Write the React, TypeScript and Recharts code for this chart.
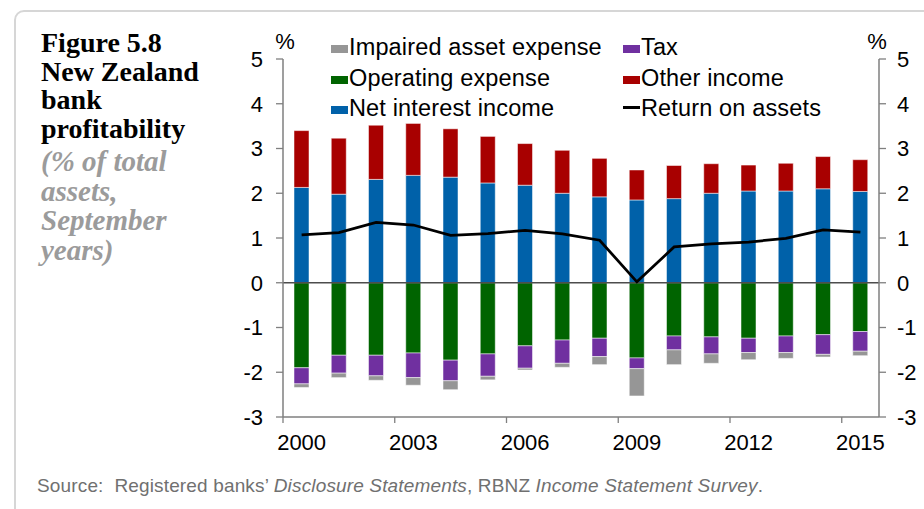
import {
  ComposedChart, Bar, Line, XAxis, YAxis, ReferenceLine,
} from 'recharts';

/* ───────── Data (% of total assets, September years) ───────── */

const YEARS = [
  '2000', '2001', '2002', '2003', '2004', '2005', '2006', '2007',
  '2008', '2009', '2010', '2011', '2012', '2013', '2014', '2015',
];
const NET_INTEREST = [2.13, 1.98, 2.31, 2.40, 2.36, 2.23, 2.18, 2.00, 1.92, 1.85, 1.88, 2.00, 2.05, 2.05, 2.10, 2.04];
const OTHER_INCOME = [1.27, 1.25, 1.21, 1.16, 1.08, 1.04, 0.93, 0.96, 0.86, 0.67, 0.74, 0.66, 0.58, 0.62, 0.72, 0.71];
const OPERATING_EXPENSE = [-1.90, -1.62, -1.62, -1.57, -1.73, -1.59, -1.41, -1.28, -1.24, -1.68, -1.19, -1.21, -1.24, -1.19, -1.16, -1.09];
const TAX = [-0.36, -0.40, -0.46, -0.55, -0.46, -0.50, -0.50, -0.52, -0.41, -0.24, -0.31, -0.38, -0.32, -0.37, -0.44, -0.44];
const IMPAIRED = [-0.08, -0.10, -0.10, -0.17, -0.20, -0.08, -0.04, -0.09, -0.18, -0.61, -0.33, -0.21, -0.16, -0.13, -0.06, -0.10];
const RETURN_ON_ASSETS = [1.07, 1.12, 1.35, 1.29, 1.06, 1.10, 1.17, 1.09, 0.95, 0.02, 0.80, 0.87, 0.91, 0.99, 1.18, 1.13];

const Y_TICKS = [-3, -2, -1, 0, 1, 2, 3, 4, 5];
const LABEL_EVERY = 3;

/* ───────── Theme ───────── */

const COLORS = {
  impaired: '#969696',
  tax: '#7030a0',
  opex: '#006400',
  other: '#a80000',
  nii: '#0061a9',
  roa: '#000000',
  axis: '#7f7f7f',
  zero: '#4d4d4d',
};

const SANS = '"Liberation Sans", Arial, sans-serif';
const SERIF = '"Liberation Serif", "Times New Roman", serif';

const LEGEND_LEFT = [
  { name: 'Impaired asset expense', color: COLORS.impaired, kind: 'box' },
  { name: 'Operating expense', color: COLORS.opex, kind: 'box' },
  { name: 'Net interest income', color: COLORS.nii, kind: 'box' },
];
const LEGEND_RIGHT = [
  { name: 'Tax', color: COLORS.tax, kind: 'box' },
  { name: 'Other income', color: COLORS.other, kind: 'box' },
  { name: 'Return on assets', color: COLORS.roa, kind: 'line' },
];

const data = YEARS.map((year, i) => ({
  year,
  nii: NET_INTEREST[i],
  other: OTHER_INCOME[i],
  opex: OPERATING_EXPENSE[i],
  tax: TAX[i],
  impaired: IMPAIRED[i],
  roa: RETURN_ON_ASSETS[i],
}));

/* ───────── Layout ───────── */

const W = 924;
const H = 509;
const MARGIN = { top: 59, right: 0, bottom: 62, left: 223 };
const LEFT_AXIS_W = 60;
const RIGHT_AXIS_W = 45;
const PLOT_W = W - MARGIN.left - MARGIN.right - LEFT_AXIS_W - RIGHT_AXIS_W;
const BAND = PLOT_W / YEARS.length;

function YearTick(props: any) {
  const { x, y, payload, index } = props;
  if (index % LABEL_EVERY !== 0) return null;
  const edge = x - BAND / 2;
  return (
    <g>
      <line x1={edge} x2={edge} y1={y} y2={y + 6} stroke={COLORS.axis} strokeWidth={1.3} />
      <text x={x} y={y + 33} textAnchor="middle" fontSize={22} fontFamily={SANS} fill="#000">
        {payload.value}
      </text>
    </g>
  );
}

function LegendItem({ item, left, top }: { item: any; left: number; top: number }) {
  return (
    <div style={{ position: 'absolute', left, top, height: 30, lineHeight: '30px', whiteSpace: 'nowrap' }}>
      {item.kind === 'box'
        ? <span style={{ position: 'absolute', left: 0, top: 13, width: 17, height: 8, background: item.color }} />
        : <span style={{ position: 'absolute', left: 0, top: 13, width: 17, height: 3, background: item.color }} />}
      <span style={{ marginLeft: 18, fontSize: 23.5, fontFamily: SANS, color: '#000', letterSpacing: 0.15 }}>{item.name}</span>
    </div>
  );
}

export default function App() {
  return (
    <div style={{ position: 'absolute', left: 0, top: 0, width: W, height: H, overflow: 'hidden', background: '#fff' }}>
      {/* panel frame */}
      <div style={{
        position: 'absolute', left: 14, top: 10, width: 1000, height: 600,
        border: '2px solid #d6d6d6', borderRadius: 10, boxSizing: 'border-box',
      }} />

      {/* title */}
      <div style={{
        position: 'absolute', left: 41, top: 29, fontFamily: SERIF, fontWeight: 'bold',
        fontSize: 28, lineHeight: '28.5px', color: '#000',
      }}>
        <div>Figure 5.8</div>
        <div>New Zealand</div>
        <div>bank</div>
        <div>profitability</div>
      </div>
      <div style={{
        position: 'absolute', left: 41, top: 147, fontFamily: SERIF, fontWeight: 'bold',
        fontStyle: 'italic', fontSize: 29, lineHeight: '29.5px', color: '#9b9b9b',
      }}>
        <div>(% of total</div>
        <div>assets,</div>
        <div>September</div>
        <div>years)</div>
      </div>

      <ComposedChart width={W} height={H} data={data} margin={MARGIN} stackOffset="sign"
        style={{ position: 'absolute', left: 0, top: 0 }}>
        <XAxis
          dataKey="year"
          interval={0}
          tick={<YearTick />}
          tickLine={false}
          tickSize={0}
          tickMargin={0}
          height={30}
          axisLine={{ stroke: COLORS.axis, strokeWidth: 1.5 }}
        />
        <YAxis
          yAxisId="left"
          orientation="left"
          width={LEFT_AXIS_W}
          domain={[-3, 5]}
          ticks={Y_TICKS}
          interval={0}
          tickSize={7}
          tickMargin={13}
          tick={{ fontSize: 22, fontFamily: SANS, fill: '#000' }}
          tickLine={{ stroke: COLORS.axis, strokeWidth: 1.3 }}
          axisLine={{ stroke: COLORS.axis, strokeWidth: 1.5 }}
        />
        <YAxis
          yAxisId="right"
          orientation="right"
          width={RIGHT_AXIS_W}
          domain={[-3, 5]}
          ticks={Y_TICKS}
          interval={0}
          tickSize={7}
          tickMargin={11}
          tick={{ fontSize: 22, fontFamily: SANS, fill: '#000', textAnchor: 'start' }}
          tickLine={{ stroke: COLORS.axis, strokeWidth: 1.3 }}
          axisLine={{ stroke: COLORS.axis, strokeWidth: 1.5 }}
        />
        <Bar yAxisId="left" dataKey="nii" stackId="a" fill={COLORS.nii} barSize={15} stroke="#ffffff" strokeWidth={0.5} isAnimationActive={false} />
        <Bar yAxisId="left" dataKey="other" stackId="a" fill={COLORS.other} barSize={15} stroke="#ffffff" strokeWidth={0.5} isAnimationActive={false} />
        <Bar yAxisId="left" dataKey="opex" stackId="a" fill={COLORS.opex} barSize={15} stroke="#ffffff" strokeWidth={0.5} isAnimationActive={false} />
        <Bar yAxisId="left" dataKey="tax" stackId="a" fill={COLORS.tax} barSize={15} stroke="#ffffff" strokeWidth={0.5} isAnimationActive={false} />
        <Bar yAxisId="left" dataKey="impaired" stackId="a" fill={COLORS.impaired} barSize={15} stroke="#ffffff" strokeWidth={0.5} isAnimationActive={false} />
        <ReferenceLine yAxisId="left" y={0} stroke={COLORS.zero} strokeWidth={1.5} />
        <Line yAxisId="right" dataKey="roa" type="linear" stroke={COLORS.roa} strokeWidth={2.75} dot={false} activeDot={false} isAnimationActive={false} />
      </ComposedChart>

      {/* axis unit labels */}
      <div style={{ position: 'absolute', left: 265, top: 31, width: 40, textAlign: 'center', fontFamily: SANS, fontSize: 22, lineHeight: '22px' }}>%</div>
      <div style={{ position: 'absolute', left: 857, top: 31, width: 40, textAlign: 'center', fontFamily: SANS, fontSize: 22, lineHeight: '22px' }}>%</div>

      {/* legend */}
      {LEGEND_LEFT.map((item, i) => <LegendItem key={item.name} item={item} left={331} top={32 + i * 30.5} />)}
      {LEGEND_RIGHT.map((item, i) => <LegendItem key={item.name} item={item} left={623} top={32 + i * 30.5} />)}

      {/* source */}
      <div style={{ position: 'absolute', left: 37, top: 475, fontFamily: SANS, fontSize: 19, lineHeight: '22px', color: '#707070', whiteSpace: 'nowrap', letterSpacing: 0.15 }}>
        Source:&nbsp; Registered banks’ <i>Disclosure Statements</i>, RBNZ <i>Income Statement Survey</i>.
      </div>
    </div>
  );
}
